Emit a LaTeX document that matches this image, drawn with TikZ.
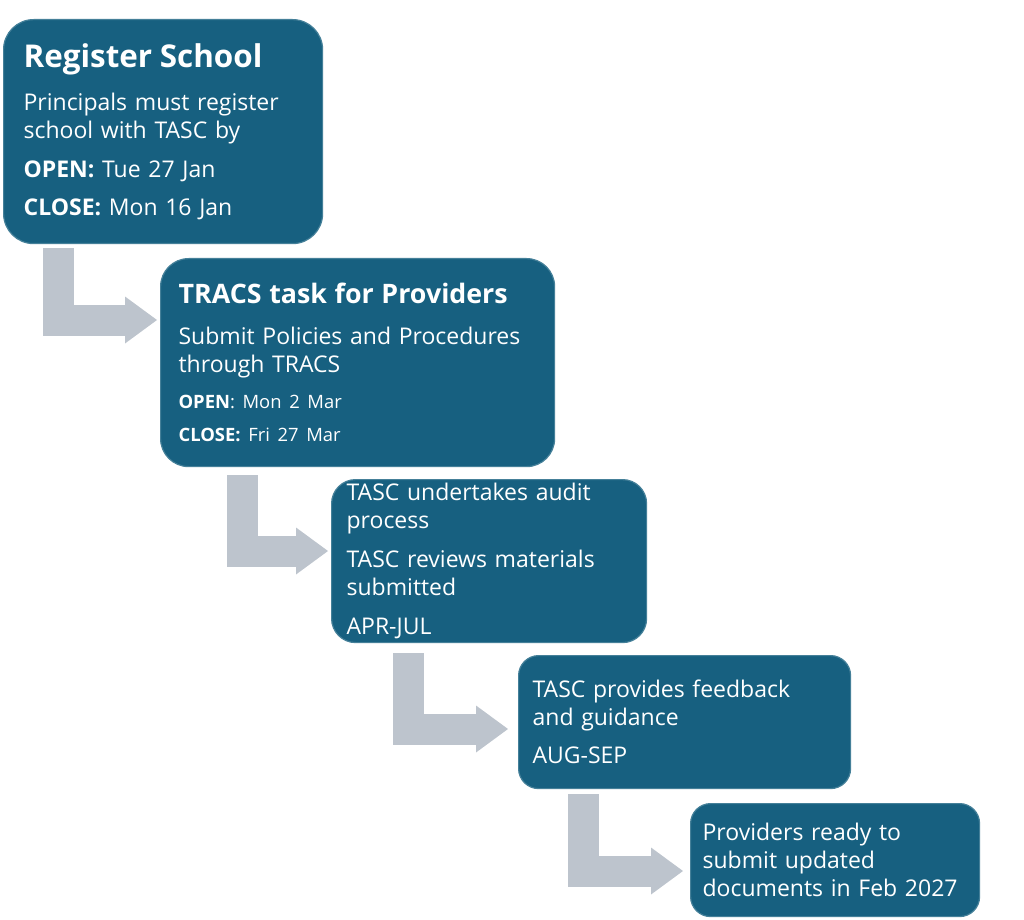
\documentclass[tikz,border=0pt]{standalone}
\usepackage{fontspec}
\setmainfont{Open Sans}
\usetikzlibrary{arrows.meta,positioning}
\definecolor{boxblue}{RGB}{23,96,128}
\definecolor{arrowgrey}{RGB}{189,196,205}
\tikzset{
  stepbox/.style={rectangle, rounded corners=12pt, fill=boxblue, draw=boxblue!80!white,
    line width=0.6pt, text=white, anchor=north west, align=left, inner ysep=0pt,
    font=\fontsize{11.5}{14}\selectfont},
  flow/.style={draw=arrowgrey, line width=15.5pt, line join=miter,
    -{Triangle[length=16pt,width=23.5pt,line width=0pt]}},
}
\newcommand{\bigtitle}[1]{{\fontsize{15.7}{18}\selectfont\bfseries #1}}
\newcommand{\midtitle}[1]{{\fontsize{13.4}{16}\selectfont\bfseries #1}}
\begin{document}
\begin{tikzpicture}[x=0.5pt,y=-0.5pt]
\useasboundingbox (0,0) rectangle (1024,920);

% the five steps
\node[stepbox, rounded corners=15pt, minimum width=159.5pt, minimum height=112pt,
  inner xsep=10pt, text width=139.5pt] (reg) at (3,19)
  {\bigtitle{Register School}\\[7.5pt]
   Principals must register\\school with TASC by\\[5.5pt]
   \textbf{OPEN:} Tue 27 Jan\\[5pt]
   \textbf{CLOSE:} Mon 16 Jan};
\node[stepbox, rounded corners=14pt, minimum width=197pt, minimum height=104pt,
  inner xsep=9pt, text width=179pt] (tracs) at (160,258)
  {\midtitle{TRACS task for Providers}\\[6.5pt]
   Submit Policies and Procedures\\through TRACS\\[4pt]
   {\fontsize{9.2}{11}\selectfont\textbf{OPEN}: Mon 2 Mar}\\[2.5pt]
   {\fontsize{9.2}{11}\selectfont\textbf{CLOSE:} Fri 27 Mar}};
\node[stepbox, minimum width=157.5pt, minimum height=81.5pt,
  inner xsep=7.5pt, text width=142.5pt] (audit) at (331,479)
  {TASC undertakes audit\\process\\[5.5pt]
   TASC reviews materials\\submitted\\[5.5pt]
   APR-JUL};
\node[stepbox, rounded corners=10pt, minimum width=166pt, minimum height=66.5pt,
  inner xsep=7pt, text width=152pt] (feed) at (518,655)
  {TASC provides feedback\\and guidance\\[5pt]
   AUG-SEP};
\node[stepbox, rounded corners=10pt, minimum width=144.5pt, minimum height=56.5pt,
  inner xsep=6pt, text width=132.5pt] (ready) at (690,803)
  {Providers ready to\\submit updated\\documents in Feb 2027};

% bent arrows
\draw[flow] ([shift={(55,4)}]reg.south west) |- ([shift={(-3,62)}]tracs.north west);
\draw[flow] ([shift={(82.5,8)}]tracs.south west) |- ([shift={(-3,72)}]audit.north west);
\draw[flow] ([shift={(77.5,10)}]audit.south west) |- ([shift={(-10,74)}]feed.north west);
\draw[flow] ([shift={(65.5,5)}]feed.south west) |- ([shift={(-7,68)}]ready.north west);
\end{tikzpicture}
\end{document}
